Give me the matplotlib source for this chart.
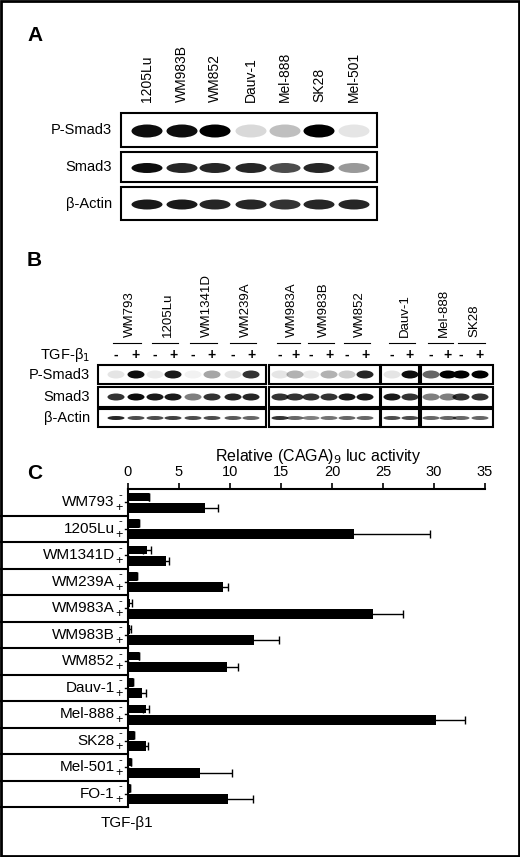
import numpy as np
import matplotlib.pyplot as plt
from matplotlib.patches import Ellipse, Rectangle

plt.rcParams['font.family'] = ['Liberation Sans', 'DejaVu Sans']

# panel A blot
a_lanes = ['1205Lu', 'WM983B', 'WM852', 'Dauv-1', 'Mel-888', 'SK28', 'Mel-501']
a_rows = ['P-Smad3', 'Smad3', 'β-Actin']
a_psmad3 = [0.95, 0.95, 1.0, 0.15, 0.25, 1.0, 0.1]
a_smad3 = [0.95, 0.85, 0.85, 0.85, 0.7, 0.85, 0.4]
a_actin = [0.9, 0.9, 0.85, 0.85, 0.8, 0.85, 0.85]

# panel B blot
b_lines = ['WM793', '1205Lu', 'WM1341D', 'WM239A', 'WM983A', 'WM983B', 'WM852',
           'Dauv-1', 'Mel-888', 'SK28']
b_psmad3 = [0.1, 0.95, 0.08, 0.9, 0.05, 0.35, 0.1, 0.8, 0.1, 0.3, 0.08, 0.3,
            0.2, 0.85, 0.1, 0.95, 0.6, 1.0, 1.0, 1.0]
b_smad3 = [0.8, 0.95, 0.9, 0.9, 0.5, 0.8, 0.85, 0.85, 0.8, 0.8, 0.8, 0.8,
           0.9, 0.9, 0.9, 0.8, 0.5, 0.5, 0.8, 0.8]
b_actin = [0.85, 0.7, 0.7, 0.75, 0.7, 0.7, 0.65, 0.6, 0.8, 0.6, 0.5, 0.55,
           0.6, 0.6, 0.7, 0.7, 0.6, 0.6, 0.6, 0.6]

# panel C luciferase
c_lines = ['WM793', '1205Lu', 'WM1341D', 'WM239A', 'WM983A', 'WM983B', 'WM852',
           'Dauv-1', 'Mel-888', 'SK28', 'Mel-501', 'FO-1']
c_minus = [2.1, 1.1, 1.9, 0.9, 0.2, 0.2, 1.1, 0.5, 1.8, 0.6, 0.3, 0.2]
c_minus_err = [0, 0, 0.4, 0, 0.2, 0.1, 0, 0, 0.3, 0, 0, 0]
c_plus = [7.5, 22.2, 3.7, 9.3, 24.0, 12.4, 9.7, 1.4, 30.2, 1.8, 7.1, 9.8]
c_plus_err = [1.3, 7.4, 0.3, 0.5, 3.0, 2.4, 1.1, 0.4, 2.8, 0.2, 3.1, 2.5]

W, H = 520, 857
fig = plt.figure(figsize=(W / 100, H / 100), dpi=100)
bg = fig.add_axes([0, 0, 1, 1])
bg.set_xlim(0, W)
bg.set_ylim(H, 0)
bg.axis('off')
bg.add_patch(Rectangle((1, 1), W - 2, H - 2, fill=False, lw=2, ec='black'))


def bands(ax, xs, y, vals, w, h):
    for x, v in zip(xs, vals):
        if v <= 0:
            continue
        ax.add_patch(Ellipse((x, y), w, h, color='black', alpha=min(v, 1), lw=0))


# ---- panel A ----
bg.text(27, 35, 'A', fontsize=15, fontweight='bold', va='center')
a_x = [147, 182, 215, 251, 285, 319, 354]
for x, name in zip(a_x, a_lanes):
    bg.text(x, 102, name, rotation=90, ha='center', va='bottom', fontsize=10)
a_boxes = [(113, 147), (152, 182), (187, 220)]
for (y0, y1), lab, vals in zip(a_boxes, a_rows, [a_psmad3, a_smad3, a_actin]):
    bg.add_patch(Rectangle((121, y0), 256, y1 - y0, fill=False, lw=1.5, ec='black'))
    bg.text(112, (y0 + y1) / 2, lab, ha='right', va='center', fontsize=10.5)
    bands(bg, a_x, (y0 + y1) / 2 + 1, vals, 31, 10 if lab != 'P-Smad3' else 13)

# ---- panel B ----
bg.text(27, 80 + 180, 'B', fontsize=15, fontweight='bold', va='center')
b_x = [116, 136, 155, 173, 193, 212, 233, 251, 280, 295, 311, 329, 347, 365,
       392, 410, 431, 448, 461, 480]
for i, name in enumerate(b_lines):
    xm = (b_x[2 * i] + b_x[2 * i + 1]) / 2
    bg.text(xm + 4, 337, name, rotation=90, ha='center', va='bottom', fontsize=9.5)
    bg.plot([b_x[2 * i] - 3, b_x[2 * i + 1] + 5], [343, 343], color='black', lw=0.8)
    bg.text(b_x[2 * i], 355, '-', ha='center', va='center', fontsize=10, fontweight='bold')
    bg.text(b_x[2 * i + 1], 355, '+', ha='center', va='center', fontsize=10, fontweight='bold')
bg.text(90, 355, 'TGF-β$_1$', ha='right', va='center', fontsize=10.5)
groups = [(98, 266, 0, 8), (269, 380, 8, 14), (381, 419, 14, 16), (421, 493, 16, 20)]
b_boxes = [(185, 204), (207, 227), (229, 247)]
for (y0, y1), lab, vals in zip(b_boxes, a_rows, [b_psmad3, b_smad3, b_actin]):
    y0 += 180
    y1 += 180
    bg.text(90, (y0 + y1) / 2, lab, ha='right', va='center', fontsize=10.5)
    for gx0, gx1, i0, i1 in groups:
        bg.add_patch(Rectangle((gx0, y0), gx1 - gx0, y1 - y0, fill=False, lw=1.5, ec='black'))
        bands(bg, b_x[i0:i1], (y0 + y1) / 2, vals[i0:i1], 17,
              8 if lab == 'P-Smad3' else (7 if lab == 'Smad3' else 4))

# ---- panel C ----
bg.text(27, 473, 'C', fontsize=15, fontweight='bold', va='center')
bg.text(318, 456, 'Relative (CAGA)$_9$ luc activity', ha='center', va='center', fontsize=11.5)
ax = fig.add_axes([128 / W, 1 - 807 / H, 357 / W, 318 / H])
n = len(c_lines)
g = np.arange(n)
ax.barh(g + 0.3, c_minus, height=0.32, color='black', xerr=c_minus_err,
        error_kw=dict(lw=1, capsize=3))
ax.barh(g + 0.7, c_plus, height=0.38, color='black', xerr=c_plus_err,
        error_kw=dict(lw=1, capsize=3))
ax.set_xlim(0, 35)
ax.set_ylim(n, 0)
ax.xaxis.tick_top()
ax.set_xticks(range(0, 36, 5))
ax.tick_params(axis='x', labelsize=10.5, width=1.2, length=4)
ax.set_yticks([])
for s in ['right', 'bottom']:
    ax.spines[s].set_visible(False)
ax.spines['top'].set_linewidth(1.5)
ax.spines['left'].set_linewidth(1.5)
ax.patch.set_alpha(0)
for i, name in enumerate(c_lines):
    ax.text(-1.3, i + 0.5, name, ha='right', va='center', fontsize=11, transform=ax.transData)
    ax.text(-0.55, i + 0.22, '-', ha='right', va='center', fontsize=8)
    ax.text(-0.55, i + 0.72, '+', ha='right', va='center', fontsize=9)
    ax.plot([-0.3, 0], [i + 0.5, i + 0.5], color='black', lw=1, clip_on=False)
    ax.plot([-27.5, 0], [i + 1, i + 1], color='black', lw=1.5, clip_on=False)
bg.text(127, 823, 'TGF-β1', ha='center', va='center', fontsize=11)

fig.savefig('out.png', dpi=100)
